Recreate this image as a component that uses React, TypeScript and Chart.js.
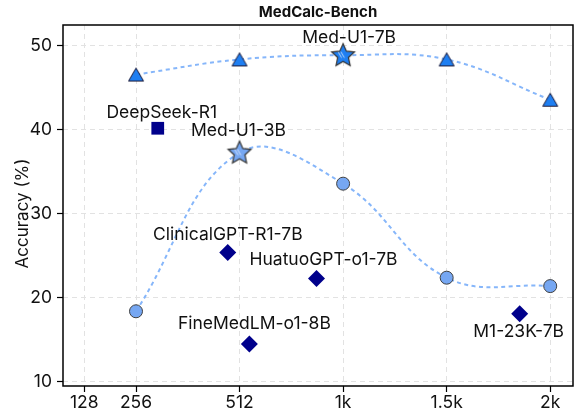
import React, { useEffect, useRef } from 'react';
import { Chart, registerables } from 'chart.js';

Chart.register(...registerables);

// ---- data ----
const xTickPositions = [-0.5, 0, 1, 2, 3, 4];
const xTickLabels = ['128', '256', '512', '1k', '1.5k', '2k'];
const yTicks = [10, 20, 30, 40, 50];

const medU1X = [0, 1, 2, 3, 4];
const medU1_7B = [46.6, 48.4, 48.9, 48.4, 43.6];
const medU1_3B = [18.4, 37.3, 33.6, 22.4, 21.4];
const star7BIndex = 2;
const star3BIndex = 1;

const baselineNames = ['DeepSeek-R1', 'ClinicalGPT-R1-7B', 'FineMedLM-o1-8B', 'HuatuoGPT-o1-7B', 'M1-23K-7B'];
const baselineX = [0.21, 0.886, 1.095, 1.743, 3.705];
const baselineY = [40.2, 25.4, 14.5, 22.3, 18.1];
const baselineShapes = ['rect', 'rectRot', 'rectRot', 'rectRot', 'rectRot'];

// ---- styles / label placement (pixels) ----
const FONT = 'Inter, "DejaVu Sans", sans-serif';
const FS = 17.5;
const C_7B = '#1f7ff2';
const C_3B = '#76a7f2';
const C_LINE = '#86b6fa';
const C_NAVY = '#00008b';
const labelOffsets: Record<string, [number, number]> = {
  'Med-U1-7B': [6, -17],
  'Med-U1-3B': [-1, -22],
  'DeepSeek-R1': [4, -16],
  'ClinicalGPT-R1-7B': [0, -18],
  'FineMedLM-o1-8B': [5, -20],
  'HuatuoGPT-o1-7B': [7, -19],
  'M1-23K-7B': [-1, 18],
};

function makeStar(fill: string): HTMLCanvasElement {
  const c = document.createElement('canvas');
  c.width = 30; c.height = 30;
  const ctx = c.getContext('2d')!;
  const cx = 15, cy = 15.5, R = 12, r = R * 0.47;
  ctx.beginPath();
  for (let i = 0; i < 10; i++) {
    const a = -Math.PI / 2 + (i * Math.PI) / 5;
    const rr = i % 2 === 0 ? R : r;
    const px = cx + rr * Math.cos(a), py = cy + rr * Math.sin(a);
    if (i === 0) ctx.moveTo(px, py); else ctx.lineTo(px, py);
  }
  ctx.closePath();
  ctx.fillStyle = fill;
  ctx.fill();
  ctx.save();
  ctx.clip();
  ctx.strokeStyle = 'rgba(255,255,255,0.85)';
  ctx.lineWidth = 0.8;
  for (let k = 0; k < 2; k++) {
    ctx.beginPath();
    ctx.moveTo(cx - 5 + k * 2.8, cy - 4);
    ctx.lineTo(cx - 1.5 + k * 2.8, cy + 2);
    ctx.stroke();
  }
  ctx.restore();
  ctx.beginPath();
  for (let i = 0; i < 10; i++) {
    const a = -Math.PI / 2 + (i * Math.PI) / 5;
    const rr = i % 2 === 0 ? R : r;
    const px = cx + rr * Math.cos(a), py = cy + rr * Math.sin(a);
    if (i === 0) ctx.moveTo(px, py); else ctx.lineTo(px, py);
  }
  ctx.closePath();
  ctx.strokeStyle = '#333333';
  ctx.lineWidth = 1.2;
  ctx.stroke();
  return c;
}

function makeTriangle(fill: string): HTMLCanvasElement {
  const c = document.createElement('canvas');
  c.width = 18; c.height = 16;
  const ctx = c.getContext('2d')!;
  const cx = 9, cy = 8, w = 15, h = 13;
  ctx.beginPath();
  ctx.moveTo(cx, cy - h / 2);
  ctx.lineTo(cx + w / 2, cy + h / 2);
  ctx.lineTo(cx - w / 2, cy + h / 2);
  ctx.closePath();
  ctx.fillStyle = fill;
  ctx.fill();
  ctx.strokeStyle = '#1a1a3a';
  ctx.lineWidth = 1;
  ctx.stroke();
  return c;
}

const decorPlugin = {
  id: 'decor',
  afterDraw(chart: any) {
    const { ctx, chartArea: a, scales } = chart;
    const sx = scales.x, sy = scales.y;
    ctx.save();
    // frame
    ctx.strokeStyle = '#000';
    ctx.lineWidth = 1.5;
    ctx.strokeRect(a.left, a.top, a.right - a.left, a.bottom - a.top);
    // title
    ctx.fillStyle = '#111';
    ctx.textAlign = 'center';
    ctx.textBaseline = 'middle';
    ctx.font = `bold 15px ${FONT}`;
    ctx.fillText('MedCalc-Bench', (a.left + a.right) / 2, 12);
    // y title
    ctx.save();
    ctx.translate(23, (a.top + a.bottom) / 2 + 8);
    ctx.rotate(-Math.PI / 2);
    ctx.font = `17px ${FONT}`;
    ctx.fillText('Accuracy (%)', 0, 0);
    ctx.restore();
    // point labels
    ctx.font = `${FS}px ${FONT}`;
    const put = (name: string, x: number, y: number) => {
      const off = labelOffsets[name] || [0, -18];
      ctx.fillText(name, sx.getPixelForValue(x) + off[0], sy.getPixelForValue(y) + off[1]);
    };
    put('Med-U1-7B', medU1X[star7BIndex], medU1_7B[star7BIndex]);
    put('Med-U1-3B', medU1X[star3BIndex], medU1_3B[star3BIndex]);
    baselineNames.forEach((n, i) => put(n, baselineX[i], baselineY[i]));
    ctx.restore();
  },
};

export default function App() {
  const ref = useRef<HTMLCanvasElement>(null);
  useEffect(() => {
    if (!ref.current) return;
    const star7 = makeStar(C_7B);
    const star3 = makeStar(C_3B);
    const tri = makeTriangle(C_7B);
    const chart = new Chart(ref.current, {
      type: 'line',
      data: {
        datasets: [
          {
            label: 'Baselines',
            data: baselineX.map((x, i) => ({ x, y: baselineY[i] })),
            showLine: false,
            pointStyle: baselineShapes as any,
            pointRadius: baselineShapes.map((s) => (s === 'rect' ? 9 : 8.5)),
            backgroundColor: C_NAVY,
            borderColor: C_NAVY,
            pointBorderWidth: 0,
          },
          {
            label: 'Med-U1-7B',
            data: medU1X.map((x, i) => ({ x, y: medU1_7B[i] })),
            borderColor: C_LINE,
            borderWidth: 2,
            borderDash: [4, 3.5],
            tension: 0.4,
            fill: false,
            pointStyle: medU1X.map((_, i) => (i === star7BIndex ? star7 : tri)) as any,
            pointRadius: 8,
            pointBackgroundColor: C_7B,
          },
          {
            label: 'Med-U1-3B',
            data: medU1X.map((x, i) => ({ x, y: medU1_3B[i] })),
            borderColor: C_LINE,
            borderWidth: 2,
            borderDash: [4, 3.5],
            tension: 0.4,
            fill: false,
            pointStyle: medU1X.map((_, i) => (i === star3BIndex ? star3 : 'circle')) as any,
            pointRadius: 6.5,
            pointBackgroundColor: C_3B,
            pointBorderColor: '#404040',
            pointBorderWidth: 1,
          },
        ],
      },
      options: {
        responsive: false,
        animation: false,
        devicePixelRatio: 1,
        layout: { padding: { top: 25, right: 3, left: 0, bottom: 0 } },
        plugins: { legend: { display: false }, tooltip: { enabled: false }, title: { display: false } },
        scales: {
          x: {
            type: 'linear',
            min: -0.705,
            max: 4.22,
            afterBuildTicks: (s: any) => { s.ticks = xTickPositions.map((v) => ({ value: v })); },
            afterFit: (s: any) => { s.height = 28; },
            ticks: {
              autoSkip: false,
              maxRotation: 0,
              padding: 0,
              color: '#111',
              font: { family: FONT, size: FS },
              callback: (v: any) => {
                const i = xTickPositions.indexOf(Number(v));
                return i >= 0 ? xTickLabels[i] : '';
              },
            },
            grid: { color: '#e2e2e2', lineWidth: 1, drawTicks: true, tickLength: 6, tickColor: '#000', tickWidth: 1.2 },
            border: { display: false, dash: [5, 4] },
          },
          y: {
            type: 'linear',
            min: 9.5,
            max: 52.5,
            afterBuildTicks: (s: any) => { s.ticks = yTicks.map((v) => ({ value: v })); },
            afterFit: (s: any) => { s.width = 63; },
            ticks: {
              padding: 5,
              color: '#111',
              font: { family: FONT, size: FS },
            },
            grid: { color: '#e2e2e2', lineWidth: 1, drawTicks: true, tickLength: 6, tickColor: '#000', tickWidth: 1.2 },
            border: { display: false, dash: [5, 4] },
          },
        },
      },
      plugins: [decorPlugin],
    });
    return () => chart.destroy();
  }, []);
  return (
    <div style={{ position: 'absolute', left: 0, top: 0, width: 583, height: 414, background: '#fff' }}>
      <canvas ref={ref} width={583} height={414} style={{ display: 'block' }} />
    </div>
  );
}
